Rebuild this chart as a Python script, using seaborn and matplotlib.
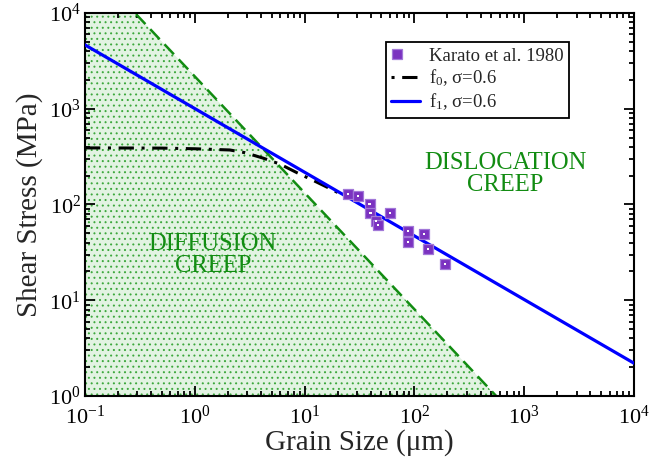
import numpy as np
import pandas as pd
import matplotlib
matplotlib.use("Agg")
import matplotlib.pyplot as plt
import seaborn as sns
from matplotlib.ticker import LogLocator, LogFormatterMathtext, NullFormatter
from matplotlib.lines import Line2D
from matplotlib.legend_handler import HandlerTuple

# ---------------- data ----------------
# Karato et al. 1980 measurements
karato_grain = [24.9, 30.7, 39.0, 39.8, 44.9, 46.8, 59.6, 86.9, 86.9, 121.6, 133.4, 190.0]
karato_stress = [128.8, 122.8, 101.2, 82.1, 67.7, 60.6, 80.9, 53.2, 40.6, 49.2, 34.0, 23.9]

# f1, sigma=0.6 (power law, end points)
f1_grain = [0.1, 1.0e4]
f1_stress = [4640.0, 2.2]

# f0, sigma=0.6 (dash-dot curve)
f0_grain = [0.1, 0.5, 1.0, 2.08, 2.85, 4.15, 5.93, 8.64, 12.8, 18.0, 25.0]
f0_stress = [390.0, 388.0, 382.0, 371.0, 348.0, 306.0, 265.0, 213.0, 172.0, 142.0, 117.0]

# diffusion / dislocation boundary (dashed green line)
bound_grain = [0.1, 556.0]
bound_stress = [35700.0, 1.0]

# ---------------- style ----------------
sns.set_theme(style="ticks")
plt.rcParams["font.family"] = ["Liberation Serif", "DejaVu Serif"]
plt.rcParams["mathtext.fontset"] = "custom"
plt.rcParams["mathtext.rm"] = "Liberation Serif"
plt.rcParams["mathtext.it"] = "Liberation Serif:italic"
plt.rcParams["mathtext.bf"] = "Liberation Serif:bold"
plt.rcParams["hatch.linewidth"] = 0.7

fig = plt.figure(figsize=(6.71, 4.67), dpi=100)
ax = fig.add_axes([0.1267, 0.152, 0.8182, 0.8202])
ax.set_xscale("log")
ax.set_yscale("log")

green = "#128c12"
purple = "#7b32c0"

# diffusion creep region fill
ax.fill_between(bound_grain, [1.0, 1.0], bound_stress, facecolor="#e2f3e2",
                edgecolor="#3da83d", hatch="...", linewidth=0, zorder=0)

df_b = pd.DataFrame({"d": bound_grain, "s": bound_stress})
sns.lineplot(data=df_b, x="d", y="s", ax=ax, color=green, lw=1.8,
             estimator=None, sort=False, zorder=2)
ax.lines[-1].set_dashes([5.5, 2.8])

df_f0 = pd.DataFrame({"d": f0_grain, "s": f0_stress})
sns.lineplot(data=df_f0, x="d", y="s", ax=ax, color="black", lw=2.2,
             estimator=None, sort=False, zorder=3)
f0_line = ax.lines[-1]
f0_line.set_dashes([5, 2.5, 1, 2.5])

df_f1 = pd.DataFrame({"d": f1_grain, "s": f1_stress})
sns.lineplot(data=df_f1, x="d", y="s", ax=ax, color="#0000ff", lw=2.3,
             estimator=None, sort=False, zorder=4)

df_k = pd.DataFrame({"d": karato_grain, "s": karato_stress})
sns.scatterplot(data=df_k, x="d", y="s", ax=ax, marker="s", s=58,
                color=purple, edgecolor="#a278d8", linewidth=0.9, zorder=5)
sns.scatterplot(data=df_k, x="d", y="s", ax=ax, marker="s", s=2.5,
                color="white", edgecolor="none", linewidth=0, zorder=6)

ax.set_xlim(0.1, 1e4)
ax.set_ylim(1, 1e4)

# ticks
for axis in (ax.xaxis, ax.yaxis):
    axis.set_major_locator(LogLocator(base=10, numticks=20))
    axis.set_minor_locator(LogLocator(base=10, subs=np.arange(2, 10), numticks=20))
    axis.set_major_formatter(LogFormatterMathtext())
    axis.set_minor_formatter(NullFormatter())
ax.tick_params(which="both", direction="in", top=True, right=True, width=1.3,
               labelsize=16, colors="black")
ax.tick_params(which="major", length=7.5)
ax.tick_params(which="minor", length=3.8)
ax.tick_params(axis="x", pad=7)
ax.tick_params(axis="y", pad=3)
for sp in ax.spines.values():
    sp.set_linewidth(1.5)
    sp.set_color("black")
    sp.set_visible(True)

ax.set_xlabel("Grain Size (\u03bcm)", fontsize=21, labelpad=0)
ax.set_ylabel("Shear Stress (MPa)", fontsize=21, labelpad=4)

# annotations
ax.text(0.766, 0.579, "DISLOCATION\nCREEP", transform=ax.transAxes, ha="center",
        va="center", fontsize=17.7, color=green, linespacing=1.0, zorder=7)
ax.text(0.233, 0.368, "DIFFUSION\nCREEP", transform=ax.transAxes, ha="center",
        va="center", fontsize=17.7, color=green, linespacing=1.0, zorder=7)

# legend
h_k = (Line2D([], [], marker="s", ls="none", markersize=7.5, markerfacecolor=purple,
              markeredgecolor="#a278d8", markeredgewidth=0.9),
       Line2D([], [], marker="s", ls="none", markersize=1.5, markerfacecolor="white",
              markeredgecolor="none"))
h_f0 = Line2D([], [], color="black", lw=2.2, dashes=[1, 2.5, 5, 2.5])
h_f1 = Line2D([], [], color="#0000ff", lw=2.3)
leg = ax.legend([h_k, h_f0, h_f1],
                ["Karato et al. 1980", "f$_0$, \u03c3=0.6", "f$_1$, \u03c3=0.6"],
                handler_map={tuple: HandlerTuple(ndivide=None)},
                loc="upper left", bbox_to_anchor=(0.548, 0.924), borderaxespad=0,
                fontsize=13.5, frameon=True, fancybox=False, handlelength=1.5,
                handletextpad=0.5, labelspacing=0.15, borderpad=0.3)
leg.get_frame().set_edgecolor("black")
leg.get_frame().set_linewidth(1.3)
leg.get_frame().set_facecolor("white")
leg.get_frame().set_alpha(1)

fig.savefig("out.png", dpi=100)
